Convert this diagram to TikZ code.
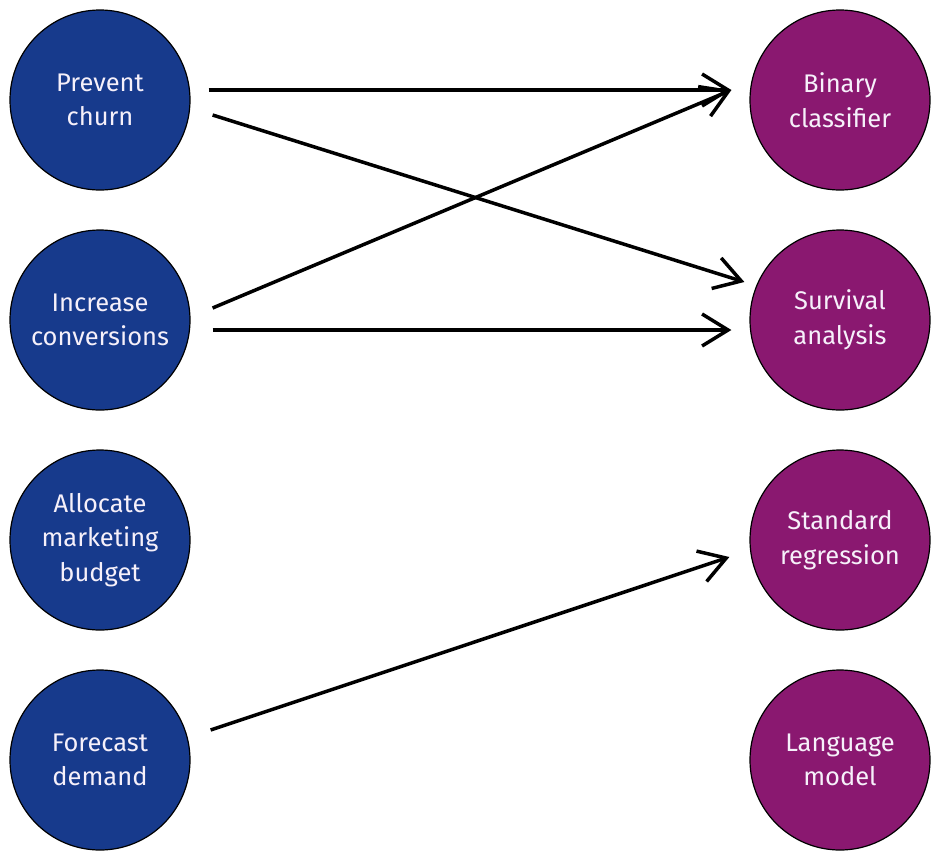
\documentclass[tikz,border=0pt]{standalone}
\usepackage{fontspec}
\setmainfont{Fira Sans}
\usetikzlibrary{arrows.meta}
\definecolor{goalblue}{HTML}{173A8C}
\definecolor{modelpurple}{HTML}{8A1870}
\definecolor{lighttext}{HTML}{F6F0FA}
\tikzset{
  goal/.style={circle,draw=black,line width=1.2pt,fill=goalblue,minimum size=180pt,inner sep=0pt,
    text=lighttext,align=center,font=\fontsize{25.5}{34.5}\selectfont},
  model/.style={goal,fill=modelpurple},
  link/.style={line width=3.5pt,-{Straight Barb[length=26pt,width=32pt]}}
}
\begin{document}
\begin{tikzpicture}[x=1pt,y=-1pt]
\useasboundingbox (0,0) rectangle (940,860);
\pgfmathsetmacro{\lx}{100}
\pgfmathsetmacro{\rx}{840}
\node[goal] (churn) at (\lx,100) {Prevent\\churn};
\node[goal] (conv) at (\lx,320) {Increase\\conversions};
\node[goal] (budget) at (\lx,540) {Allocate\\marketing\\budget};
\node[goal] (demand) at (\lx,760) {Forecast\\demand};
\node[model] (binary) at (\rx,100) {Binary\\classifier};
\node[model] (surv) at (\rx,320) {Survival\\analysis};
\node[model] (regr) at (\rx,540) {Standard\\regression};
\node[model] (lang) at (\rx,760) {Language\\model};
\draw[link] ([shift={(18,-10)}]churn.east) -- ([shift={(-18,-10)}]binary.west);
\draw[link] ([shift={(22,15)}]churn.east) -- ([shift={(-5,-38)}]surv.west);
\draw[link] ([shift={(22,-12)}]conv.east) -- ([shift={(-18,-10)}]binary.west);
\draw[link] ([shift={(22,10)}]conv.east) -- ([shift={(-18,10)}]surv.west);
\draw[link] ([shift={(20,-30)}]demand.east) -- ([shift={(-20,17)}]regr.west);
\end{tikzpicture}
\end{document}
